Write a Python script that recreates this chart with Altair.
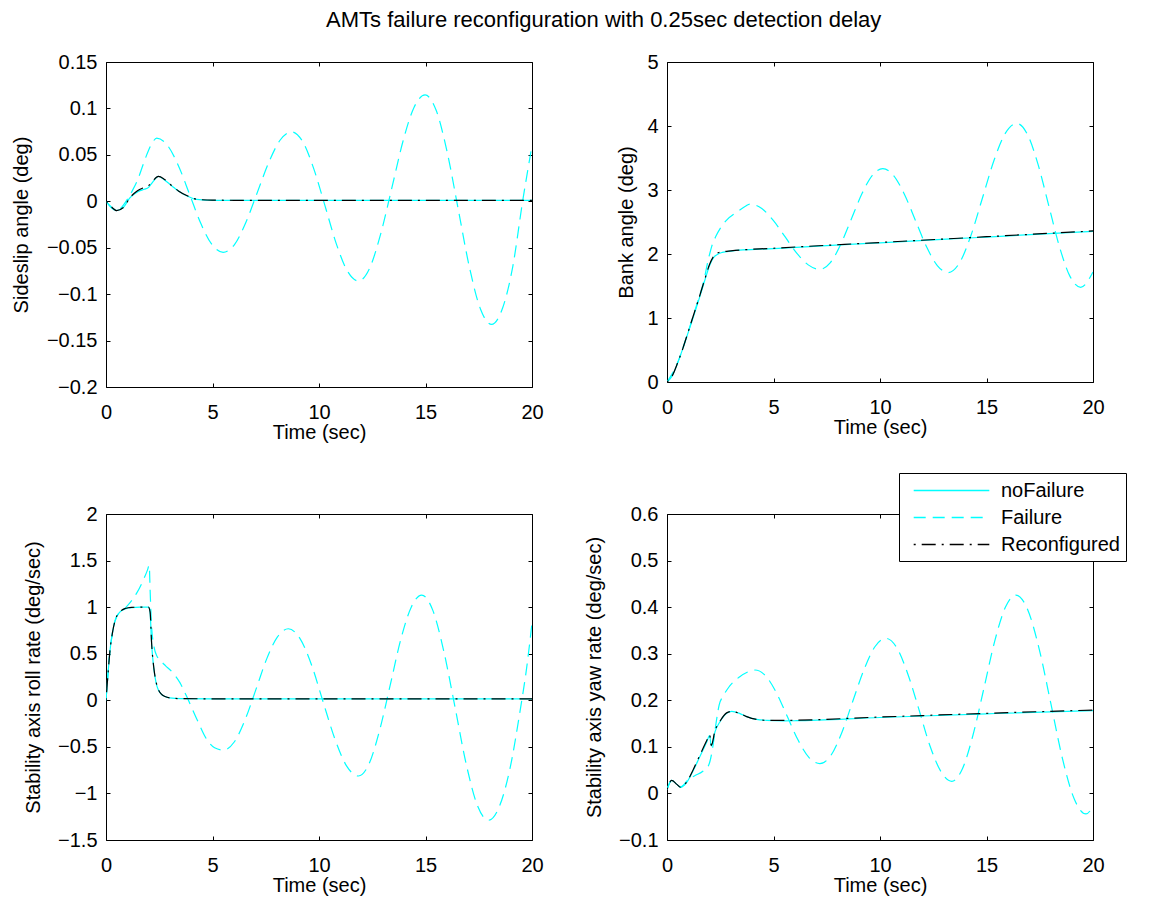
import altair as alt
import pandas as pd

FONT = "Liberation Sans"
SERIES = ["noFailure", "Failure", "Reconfigured"]
SERIES_COLORS = ["#00FFFF", "#00FFFF", "#000000"]
SERIES_DASH = [[100, 0], [12, 7], [2, 6, 14, 6]]
TIME_TICKS = [0, 5, 10, 15, 20]

# ---------------- Sideslip angle (deg) ----------------
sideslip_t_nom = [0, 0.25, 0.5, 0.8, 1.13, 1.4, 1.6, 1.8, 2.0, 2.2, 2.46, 2.75, 3.08,
                  3.4, 3.79, 4.26, 5, 8, 12, 16, 20]
sideslip_nofail = [0, -0.006, -0.010, -0.007, 0.004, 0.009, 0.0115, 0.013, 0.015, 0.021,
                   0.0268, 0.023, 0.0168, 0.011, 0.006, 0.002, 0.001, 0.001, 0.001, 0.001, 0.001]
sideslip_reconf = [0, -0.006, -0.010, -0.007, 0.004, 0.010, 0.013, 0.015, 0.017, 0.022,
                   0.0268, 0.0235, 0.0170, 0.0112, 0.0062, 0.0022, 0.0012, 0.001, 0.001, 0.001, 0.001]
sideslip_t_fail = [0, 0.25, 0.5, 0.75, 1.0, 1.25, 1.5, 1.75, 2.0, 2.2, 2.38, 2.9, 3.42, 3.94,
                   4.46, 4.98, 5.5, 6.04, 6.57, 7.11, 7.65, 8.18, 8.72, 9.24, 9.76, 10.29,
                   10.81, 11.33, 11.85, 12.37, 12.89, 13.42, 13.94, 14.46, 14.98, 15.5, 16.02,
                   16.54, 17.06, 17.58, 18.1, 18.62, 19.1, 19.56, 20]
sideslip_fail = [0, -0.007, -0.010, -0.006, 0.002, 0.012, 0.024, 0.040, 0.055, 0.064, 0.068,
                 0.0598, 0.0373, 0.0065, -0.0243, -0.0468, -0.055, -0.0463, -0.0226, 0.0099,
                 0.0423, 0.066, 0.0748, 0.064, 0.0346, -0.0055, -0.0456, -0.075, -0.0858,
                 -0.0724, -0.0357, 0.0144, 0.0644, 0.1011, 0.1145, 0.098, 0.0527, -0.009,
                 -0.0708, -0.116, -0.1326, -0.115, -0.070, 0.0, 0.060]

# ---------------- Bank angle (deg) ----------------
bank_t_nom = [0, 0.25, 0.5, 0.75, 1.0, 1.25, 1.5, 1.75, 2.0, 2.2, 2.4, 2.6, 3.0, 5, 10, 15, 20]
bank_nofail = [0, 0.1, 0.3, 0.53, 0.78, 1.03, 1.29, 1.56, 1.82, 1.95, 2.0, 2.025, 2.045,
               2.085, 2.175, 2.265, 2.355]
bank_reconf = [0, 0.1, 0.3, 0.53, 0.79, 1.05, 1.31, 1.58, 1.84, 1.97, 2.02, 2.035, 2.05,
               2.09, 2.18, 2.27, 2.36]
bank_t_fail = [0, 0.5, 1.0, 1.5, 1.7, 1.95, 2.1, 2.3, 2.5, 2.8, 3.3, 3.7, 3.9, 4.45, 4.99,
               5.54, 6.09, 6.63, 7.18, 7.67, 8.16, 8.66, 9.15, 9.64, 10.13, 10.64, 11.15,
               11.67, 12.18, 12.69, 13.2, 13.74, 14.27, 14.81, 15.35, 15.88, 16.42, 16.92,
               17.42, 17.92, 18.42, 18.92, 19.42, 20]
bank_fail = [0, 0.3, 0.79, 1.32, 1.54, 1.93, 2.12, 2.28, 2.4, 2.53, 2.66, 2.75, 2.78, 2.71,
             2.525, 2.27, 2.015, 1.83, 1.76, 1.865, 2.154, 2.55, 2.94, 3.23, 3.335, 3.226,
             2.929, 2.52, 2.116, 1.82, 1.71, 1.866, 2.29, 2.875, 3.46, 3.884, 4.04, 3.87,
             3.40, 2.76, 2.12, 1.65, 1.48, 1.72]

# ---------------- Stability axis roll rate (deg/sec) ----------------
roll_t_nom = [0, 0.1, 0.19, 0.3, 0.42, 0.66, 0.9, 1.2, 1.6, 1.99, 2.07, 2.14, 2.25, 2.35,
              2.46, 2.6, 2.77, 3.0, 3.5, 5, 10, 15, 20]
roll_nofail = [0, 0.3, 0.54, 0.72, 0.85, 0.95, 0.98, 0.995, 1.0, 1.0, 0.94, 0.61, 0.33, 0.19,
               0.11, 0.065, 0.04, 0.025, 0.018, 0.015, 0.015, 0.015, 0.015]
roll_reconf = [0, 0.3, 0.54, 0.72, 0.85, 0.95, 0.985, 0.998, 1.0, 1.0, 0.95, 0.62, 0.34, 0.2,
               0.115, 0.067, 0.041, 0.026, 0.018, 0.016, 0.016, 0.016, 0.016]
roll_t_fail = [0, 0.1, 0.19, 0.3, 0.42, 0.66, 0.9, 1.1, 1.44, 1.75, 1.95, 2.03, 2.07, 2.14,
               2.25, 2.4, 2.54, 2.8, 3.08, 3.47, 3.79, 4.26, 4.73, 5.1, 5.51, 6.02, 6.53,
               7.04, 7.54, 8.05, 8.56, 9.11, 9.66, 10.2, 10.75, 11.3, 11.85, 12.35, 12.84,
               13.34, 13.83, 14.33, 14.82, 15.34, 15.86, 16.39, 16.91, 17.43, 17.95, 18.45,
               18.95, 19.45, 19.75, 20]
roll_fail = [0, 0.3, 0.54, 0.72, 0.85, 0.95, 0.99, 1.04, 1.15, 1.29, 1.4, 1.45, 1.19, 0.79,
             0.58, 0.47, 0.43, 0.37, 0.31, 0.19, 0.04, -0.2, -0.42, -0.51, -0.535, -0.448,
             -0.209, 0.117, 0.442, 0.681, 0.768, 0.662, 0.373, -0.023, -0.418, -0.707,
             -0.813, -0.683, -0.327, 0.159, 0.644, 1.0, 1.13, 0.968, 0.526, -0.079, -0.684,
             -1.126, -1.288, -1.15, -0.75, -0.1, 0.35, 0.83]

# ---------------- Stability axis yaw rate (deg/sec) ----------------
yaw_t_nom = [0, 0.22, 0.45, 0.64, 0.9, 1.24, 1.5, 1.86, 2.0, 2.08, 2.25, 2.5, 2.8, 3.04,
             3.4, 3.74, 4.2, 4.68, 5.5, 10, 15, 20]
yaw_nofail = [0.008, 0.028, 0.02, 0.013, 0.022, 0.05, 0.075, 0.11, 0.124, 0.102, 0.132,
              0.155, 0.172, 0.176, 0.172, 0.165, 0.159, 0.157, 0.156, 0.163, 0.171, 0.178]
yaw_reconf = [0.008, 0.028, 0.02, 0.013, 0.023, 0.052, 0.078, 0.113, 0.126, 0.103, 0.134,
              0.156, 0.173, 0.176, 0.172, 0.165, 0.159, 0.157, 0.157, 0.164, 0.172, 0.179]
yaw_t_fail = [0, 0.22, 0.64, 1.0, 1.3, 1.7, 1.95, 2.05, 2.15, 2.3, 2.45, 2.65, 2.9, 3.4,
              3.8, 4.13, 4.64, 5.15, 5.65, 6.16, 6.67, 7.18, 7.7, 8.21, 8.73, 9.25, 9.76,
              10.28, 10.8, 11.31, 11.83, 12.34, 12.86, 13.37, 13.87, 14.37, 14.88, 15.38,
              15.88, 16.38, 16.93, 17.48, 18.03, 18.57, 19.12, 19.67, 20]
yaw_fail = [0.008, 0.028, 0.014, 0.03, 0.038, 0.048, 0.06, 0.075, 0.1, 0.15, 0.19, 0.21,
            0.228, 0.25, 0.261, 0.265, 0.252, 0.215, 0.165, 0.114, 0.077, 0.064, 0.082,
            0.131, 0.199, 0.266, 0.315, 0.333, 0.312, 0.256, 0.18, 0.103, 0.047, 0.026,
            0.053, 0.126, 0.226, 0.326, 0.399, 0.426, 0.395, 0.309, 0.191, 0.074, -0.012,
            -0.044, -0.028]


def make_df(t_nom, nofail, reconf, t_fail, fail):
    rows = []
    rows += [{"t": t, "v": v, "series": "noFailure"} for t, v in zip(t_nom, nofail)]
    rows += [{"t": t, "v": v, "series": "Failure"} for t, v in zip(t_fail, fail)]
    rows += [{"t": t, "v": v, "series": "Reconfigured"} for t, v in zip(t_nom, reconf)]
    return pd.DataFrame(rows)


AXIS_STYLE = dict(
    grid=False, domain=False, ticks=True, tickColor="black", tickSize=4, tickWidth=1,
    offset=-4, labelFont=FONT, labelFontSize=20, labelColor="black",
    titleFont=FONT, titleFontSize=20, titleFontWeight="normal", titleColor="black",
    labelFlush=False, labelOverlap=False,
)

LEGEND = alt.Legend(
    title=None, orient="none", legendX=793, legendY=411, direction="vertical",
    symbolType="M-3.6,0H3.6", symbolSize=441, symbolStrokeWidth=1.3,
    symbolOffset=35, labelOffset=38, labelFont=FONT, labelFontSize=20,
    labelColor="black", strokeColor="black", fillColor="white", padding=6,
    rowPadding=5, cornerRadius=0, labelLimit=300,
)


def panel(df, ytitle, ydomain, yticks, height, ytitle_pad):
    xscale = alt.Scale(domain=[0, 20], nice=False, zero=False)
    yscale = alt.Scale(domain=ydomain, nice=False, zero=False)
    lines = alt.Chart(df).mark_line(strokeWidth=1.2, interpolate="monotone", clip=True).encode(
        x=alt.X("t:Q", scale=xscale,
                axis=alt.Axis(values=TIME_TICKS, title="Time (sec)", labelPadding=15,
                              titlePadding=0, **AXIS_STYLE)),
        y=alt.Y("v:Q", scale=yscale,
                axis=alt.Axis(values=yticks, format="~g", title=ytitle, labelPadding=9,
                              titlePadding=ytitle_pad, **AXIS_STYLE)),
        color=alt.Color("series:N", scale=alt.Scale(domain=SERIES, range=SERIES_COLORS),
                        legend=LEGEND),
        strokeDash=alt.StrokeDash("series:N", scale=alt.Scale(domain=SERIES, range=SERIES_DASH),
                                  legend=LEGEND),
    )
    frame = alt.Chart(df).mark_line(opacity=0).encode(
        x=alt.X("t:Q", scale=xscale,
                axis=alt.Axis(orient="top", values=TIME_TICKS, labels=False, title=None,
                              **AXIS_STYLE)),
        y=alt.Y("v:Q", scale=yscale,
                axis=alt.Axis(orient="right", values=yticks, labels=False, title=None,
                              **AXIS_STYLE)),
        detail="series:N",
    )
    return alt.layer(lines, frame).resolve_axis(x="independent", y="independent").properties(
        width=426, height=height)


p1 = panel(make_df(sideslip_t_nom, sideslip_nofail, sideslip_reconf, sideslip_t_fail, sideslip_fail),
           "Sideslip angle (deg)", [-0.2, 0.15],
           [-0.2, -0.15, -0.1, -0.05, 0, 0.05, 0.1, 0.15], 325, 15)
p2 = panel(make_df(bank_t_nom, bank_nofail, bank_reconf, bank_t_fail, bank_fail),
           "Bank angle (deg)", [0, 5], [0, 1, 2, 3, 4, 5], 320, 10)
p3 = panel(make_df(roll_t_nom, roll_nofail, roll_reconf, roll_t_fail, roll_fail),
           "Stability axis roll rate (deg/sec)", [-1.5, 2],
           [-1.5, -1, -0.5, 0, 0.5, 1, 1.5, 2], 326, 14)
p4 = panel(make_df(yaw_t_nom, yaw_nofail, yaw_reconf, yaw_t_fail, yaw_fail),
           "Stability axis yaw rate (deg/sec)", [-0.1, 0.6],
           [-0.1, 0, 0.1, 0.2, 0.3, 0.4, 0.5, 0.6], 326, 14)

chart = alt.concat(
    p1, p2, p3, p4, columns=2, spacing={"row": 127, "column": 135}, bounds="flush",
    title=alt.TitleParams("AMTs failure reconfiguration with 0.25sec detection delay",
                          font=FONT, fontSize=22, fontWeight="normal", color="black",
                          anchor="middle", offset=20, dx=35),
    padding={"left": 10, "top": 8, "right": 4, "bottom": 2},
    background="white",
).configure_view(stroke="black", strokeWidth=1)

chart.save("out.html", embed_options={"renderer": "svg", "actions": False})
